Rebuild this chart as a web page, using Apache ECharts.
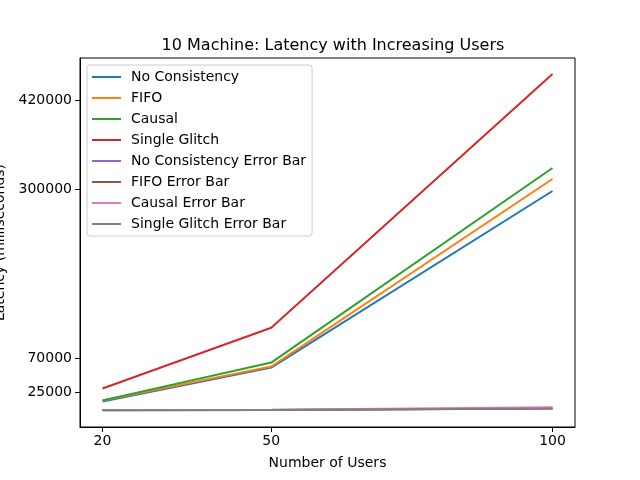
<!DOCTYPE html>
<html>
<head>
<meta charset="utf-8">
<script src="https://cdn.jsdelivr.net/npm/echarts@6/dist/echarts.min.js"></script>
<style>
    html, body { margin: 0; padding: 0; background: #fff; }
    #main { width: 640px; height: 480px; }
</style>
</head>
<body>
<div id="main"></div>
<script>
// number of users on the x axis
var users = [20, 50, 100];
var seriesNames = ['No Consistency', 'FIFO', 'Causal', 'Single Glitch',
    'No Consistency Error Bar', 'FIFO Error Bar', 'Causal Error Bar', 'Single Glitch Error Bar'];
// latency values (ms)
var noConsistency = [12000, 58000, 297300];
var fifo = [13300, 59400, 313500];
var causal = [13600, 64800, 328500];
var singleGlitch = [29700, 112000, 455800];
var noConsistencyErr = [400, 600, 3000];
var fifoErr = [300, 500, 2600];
var causalErr = [500, 800, 4100];
var singleGlitchErr = [300, 400, 2700];
var yTicks = [25000, 70000, 300000, 420000];
var xTicks = [20, 50, 100];

var colors = ['#1f77b4', '#ff7f0e', '#2ca02c', '#d62728', '#9467bd', '#8c564b', '#e377c2', '#7f7f7f'];
var values = [noConsistency, fifo, causal, singleGlitch, noConsistencyErr, fifoErr, causalErr, singleGlitchErr];

var font = 'DejaVu Sans';
var myChart = echarts.init(document.getElementById('main'));

var series = seriesNames.map(function (name, i) {
    return {
        name: name,
        type: 'line',
        data: users.map(function (u, j) { return [u, values[i][j]]; }),
        showSymbol: false,
        symbol: 'none',
        lineStyle: { width: 2, color: colors[i] },
        itemStyle: { color: colors[i] },
        animation: false
    };
});

var option = {
    animation: false,
    title: {
        text: '10 Machine: Latency with Increasing Users',
        left: 328,
        textAlign: 'center',
        top: 33,
        textStyle: { fontFamily: font, fontSize: 16, fontWeight: 'normal', color: '#000' }
    },
    legend: {
        left: 87,
        top: 65,
        orient: 'vertical',
        icon: 'rect',
        itemWidth: 29,
        itemHeight: 2,
        itemGap: 7,
        padding: [5, 6, 5, 5],
        borderColor: '#cccccc',
        borderWidth: 1,
        borderRadius: 3,
        backgroundColor: 'rgba(255,255,255,0.8)',
        textStyle: { fontFamily: font, fontSize: 14, color: '#000', padding: [0, 0, 0, 5] },
        data: seriesNames
    },
    grid: {
        left: 80,
        right: 65,
        top: 58,
        bottom: 53,
        outerBoundsMode: 'none',
        containLabel: false,
        show: true,
        borderColor: '#000',
        borderWidth: 1,
        backgroundColor: 'transparent'
    },
    xAxis: {
        type: 'value',
        min: 16,
        max: 104,
        name: 'Number of Users',
        nameLocation: 'middle',
        nameGap: 29,
        nameTextStyle: { fontFamily: font, fontSize: 14, color: '#000' },
        splitLine: { show: false },
        axisLine: { show: true, onZero: false, lineStyle: { color: '#000' } },
        axisTick: { show: true, length: 5, customValues: xTicks, lineStyle: { color: '#000' } },
        axisLabel: {
            customValues: xTicks, fontFamily: font, fontSize: 14, color: '#000', margin: 7,
            formatter: function (v) { return String(v); }
        }
    },
    yAxis: {
        type: 'value',
        min: -22500,
        max: 477500,
        name: 'Latency (milliseconds)',
        nameLocation: 'middle',
        nameRotate: 90,
        nameGap: 72,
        nameTextStyle: { fontFamily: font, fontSize: 14, color: '#000' },
        splitLine: { show: false },
        axisLine: { show: true, onZero: false, lineStyle: { color: '#000' } },
        axisTick: { show: true, length: 5, customValues: yTicks, lineStyle: { color: '#000' } },
        axisLabel: {
            customValues: yTicks, fontFamily: font, fontSize: 14, color: '#000', margin: 8,
            formatter: function (v) { return String(v); }
        }
    },
    series: series
};
option && myChart.setOption(option);
</script>
</body>
</html>
